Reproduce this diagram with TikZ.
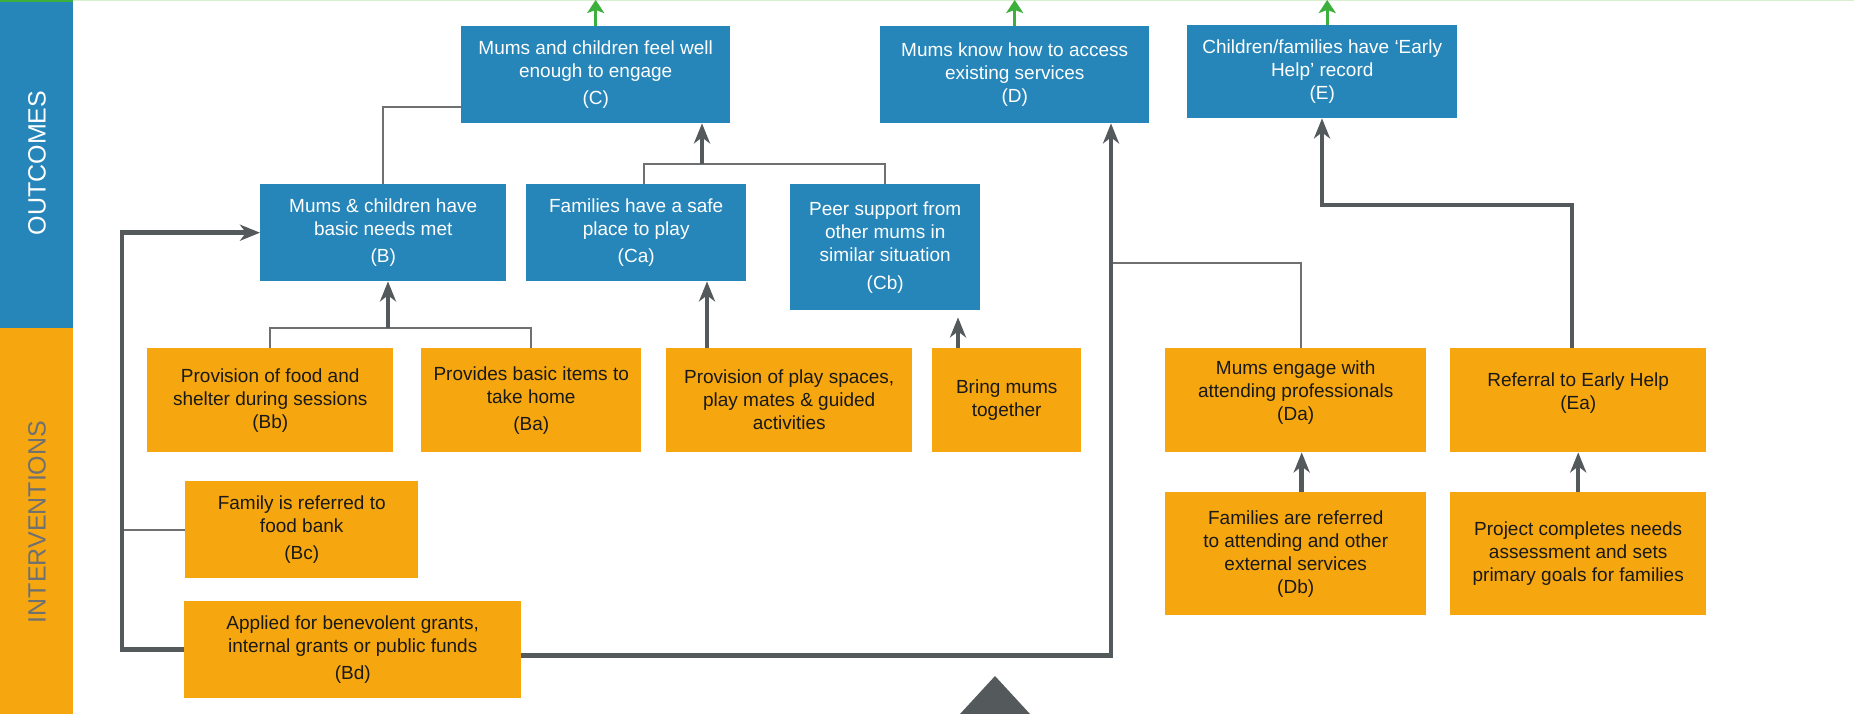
\documentclass[tikz,border=0pt]{standalone}
\usepackage{fontspec}
\setmainfont{Liberation Sans}
\usetikzlibrary{arrows.meta}
\definecolor{cblue}{RGB}{38,134,185}
\definecolor{corange}{RGB}{246,167,16}
\definecolor{cdark}{RGB}{84,89,92}
\definecolor{cline}{RGB}{110,112,114}
\definecolor{cgreen}{RGB}{60,175,60}
\definecolor{cgreenlight}{RGB}{214,240,208}
\definecolor{ctext}{RGB}{25,25,25}
\newcommand\boxfont{\fontsize{19}{23}\selectfont}
\newcommand\sidefont{\fontsize{25}{28}\selectfont}
\tikzset{
  box/.style={rectangle, inner sep=0pt, anchor=north west, align=center, font=\boxfont},
  outc/.style={box, fill=cblue, text=white},
  intv/.style={box, fill=corange, text=ctext},
  arr/.style={draw=cdark, line width=4.5pt, -{Stealth[length=20pt,width=16pt,inset=6pt]}},
  thinl/.style={draw=cline, line width=2pt},
  garr/.style={draw=cgreen, line width=3pt, -{Stealth[length=13pt,width=17pt,inset=3pt]}},
  side/.style={rotate=90, font=\sidefont, inner sep=0pt},
}
\begin{document}
\begin{tikzpicture}[x=1pt,y=-1pt]
\useasboundingbox (0,0) rectangle (1854,714);
\fill[white] (0,0) rectangle (1854,714);
% top line
\draw[cgreenlight, line width=1.5pt] (0,0.75) -- (1854,0.75);
% sidebars
\fill[cblue] (0,0) rectangle (73,328);
\fill[corange] (0,328) rectangle (73,714);
\fill[cgreen] (0,0) rectangle (73,2);
\node[side, text=white] (outlbl) at (37,163) {OUTCOMES};
\node[side, text=cline] (intlbl) at (37,522) {INTERVENTIONS};
% outcome boxes
\node[outc, minimum width=269pt, minimum height=97pt] (C) at (461,26) {Mums and children feel well\\enough to engage\\[4pt](C)};
\node[outc, minimum width=269pt, minimum height=97pt] (D) at (880,26) {Mums know how to access\\existing services\\(D)};
\node[outc, minimum width=270pt, minimum height=93pt] (E) at (1187,25) {Children/families have ‘Early\\Help’ record\\(E)};
\node[outc, minimum width=246pt, minimum height=97pt] (B) at (260,184) {Mums \& children have\\basic needs met\\[4pt](B)};
\node[outc, minimum width=220pt, minimum height=97pt] (Ca) at (526,184) {Families have a safe\\place to play\\[4pt](Ca)};
\node[outc, minimum width=190pt, minimum height=126pt] (Cb) at (790,184) {Peer support from\\other mums in\\similar situation\\[5pt](Cb)};
% intervention boxes
\node[intv, minimum width=246pt, minimum height=104pt] (Bb) at (147,348) {Provision of food and\\shelter during sessions\\(Bb)};
\node[intv, minimum width=220pt, minimum height=104pt] (Ba) at (421,348) {Provides basic items to\\take home\\[4pt](Ba)};
\node[intv, minimum width=246pt, minimum height=104pt] (Pl) at (666,348) {Provision of play spaces,\\play mates \& guided\\activities};
\node[intv, minimum width=149pt, minimum height=104pt] (Bm) at (932,348) {Bring mums\\together};
\node[intv, minimum width=261pt, minimum height=104pt] (Da) at (1165,348) {Mums engage with\\attending professionals\\(Da)\\[-4pt]\mbox{}};
\node[intv, minimum width=256pt, minimum height=104pt] (Ea) at (1450,348) {Referral to Early Help\\(Ea)\\[-4pt]\mbox{}};
\node[intv, minimum width=233pt, minimum height=97pt] (Bc) at (185,481) {Family is referred to\\food bank\\[4pt](Bc)};
\node[intv, minimum width=337pt, minimum height=97pt] (Bd) at (184,601) {Applied for benevolent grants,\\internal grants or public funds\\[4pt](Bd)};
\node[intv, minimum width=261pt, minimum height=123pt] (Db) at (1165,492) {Families are referred\\to attending and other\\external services\\(Db)};
\node[intv, minimum width=256pt, minimum height=123pt] (Pr) at (1450,492) {Project completes needs\\assessment and sets\\primary goals for families};
% helper coordinates
\coordinate (top) at (0,0);
\coordinate (jC) at (702,164);
\coordinate (jB) at (388,328);
\coordinate (xPl) at (707,0);
\coordinate (xBm) at (958,0);
\coordinate (xL) at (122,0);
\coordinate (xD) at (1111,0);
\coordinate (jD) at (1111,263);
\coordinate (hE) at (1322,205);
% green arrows
\draw[garr] (C.north) -- (C.north |- top);
\draw[garr] (D.north) -- (D.north |- top);
\draw[garr] ([xshift=5pt]E.north) -- ([xshift=5pt]E.north |- top);
% thin joins
\draw[thinl] (B.north) |- ([yshift=16pt]C.south west);
\draw[thinl] ([xshift=8pt]Ca.north) -- ++(0,-20) -| (Cb.north);
\draw[thinl] (Bb.north) -- ++(0,-20) -| (Ba.north);
\draw[thinl] (Bc.west) -- (Bc.west -| xL);
\draw[thinl] ([xshift=5pt]Da.north) |- (jD);
% thick arrows
\draw[arr] (jC) -- (jC |- C.south);
\draw[arr] (jB) -- (jB |- B.south);
\draw[arr] (Pl.north -| xPl) -- (Ca.south -| xPl);
\draw[arr] (Bm.north -| xBm) -- ([yshift=-7pt]Cb.south -| xBm);
\draw[arr] (Bd.west) -- (Bd.west -| xL) -- (B.west -| xL) -- (B.west);
\draw[arr] ([yshift=-6pt]Bd.east) -| (xD |- D.south);
\draw[arr] ([xshift=6pt]Db.north) -- ([xshift=6pt]Da.south);
\draw[arr] (Pr.north) -- (Ea.south);
\draw[arr] ([xshift=-6pt]Ea.north) |- (hE) -- (hE |- E.south);
% bottom triangle
\fill[cdark] (995,676) -- (1030,714) -- (960,714) -- cycle;
\end{tikzpicture}
\end{document}
